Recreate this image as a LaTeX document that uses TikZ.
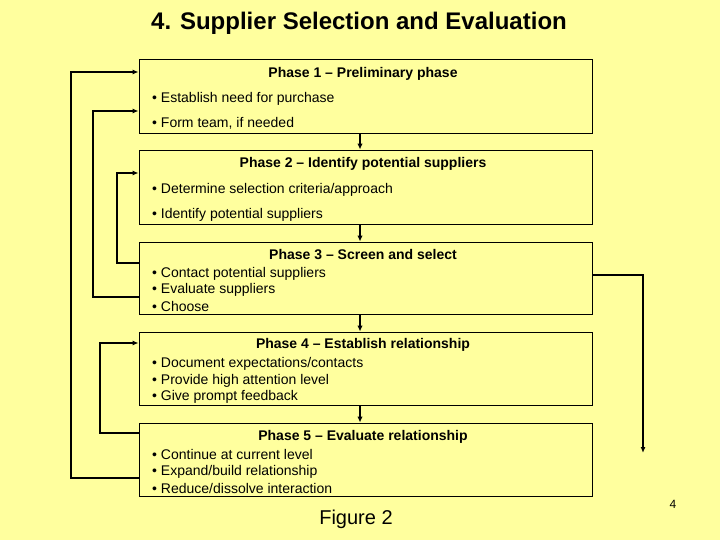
\documentclass[tikz,border=0pt]{standalone}
\usepackage{fontspec}
\setmainfont{Liberation Sans}
\usetikzlibrary{calc,arrows.meta}
\definecolor{slidebg}{RGB}{255,255,158}
\tikzset{
  phasebox/.style={draw,line width=0.9pt,minimum width=453pt,inner sep=0pt},
  phasehead/.style={font=\fontsize{14}{16}\selectfont\bfseries},
  phaseitem/.style={anchor=west,inner sep=0pt,font=\fontsize{14}{16}\selectfont},
  flow/.style={-{Latex[length=6pt,width=5.5pt]},line width=1.4pt},
  loop/.style={-{Latex[length=6pt,width=5pt]},line width=1.2pt}
}
\begin{document}
\begin{tikzpicture}[x=1pt,y=-1pt,>=latex]
  \fill[slidebg] (0,0) rectangle (720,540);
  \useasboundingbox (0,0) rectangle (720,540);
  \node[font=\fontsize{24}{28}\selectfont\bfseries] (title) at (359,23.5) {4. Supplier Selection and Evaluation};
  % the five phases
  \node[phasebox,minimum height=74pt] (p1) at (365.5,96) {};
  \node[phasebox,minimum height=74pt] (p2) at (365.5,187) {};
  \node[phasebox,minimum height=72pt] (p3) at (365.5,278) {};
  \node[phasebox,minimum height=73pt] (p4) at (365.5,368.5) {};
  \node[phasebox,minimum height=73pt] (p5) at (365.5,459.5) {};
  \node[phasehead] (h1) at (363,73.5) {Phase 1 -- Preliminary phase};
  \node[phaseitem] (a1) at (152,98.5) {• Establish need for purchase};
  \node[phaseitem] (a2) at (152,123.5) {• Form team, if needed};
  \node[phasehead] (h2) at (363,163.5) {Phase 2 -- Identify potential suppliers};
  \node[phaseitem] (b1) at (152,189.5) {• Determine selection criteria/approach};
  \node[phaseitem] (b2) at (152,214.5) {• Identify potential suppliers};
  \node[phasehead] (h3) at (363,254.5) {Phase 3 -- Screen and select};
  \node[phaseitem] (c1) at (152,273.5) {• Contact potential suppliers};
  \node[phaseitem] (c2) at (152,290) {• Evaluate suppliers};
  \node[phaseitem] (c3) at (152,306.5) {• Choose};
  \node[phasehead] (h4) at (363,344.5) {Phase 4 -- Establish relationship};
  \node[phaseitem] (d1) at (152,363.5) {• Document expectations/contacts};
  \node[phaseitem] (d2) at (152,380.5) {• Provide high attention level};
  \node[phaseitem] (d3) at (152,397) {• Give prompt feedback};
  \node[phasehead] (h5) at (363,436.5) {Phase 5 -- Evaluate relationship};
  \node[phaseitem] (e1) at (152,454.5) {• Continue at current level};
  \node[phaseitem] (e2) at (152,471.5) {• Expand/build relationship};
  \node[phaseitem] (e3) at (152,488.5) {• Reduce/dissolve interaction};
  % down the chain
  \draw[flow] ([xshift=-5.5pt]p1.south) -- ([xshift=-5.5pt]p2.north);
  \draw[flow] ([xshift=-5.5pt]p2.south) -- ([xshift=-5.5pt]p3.north);
  \draw[flow] ([xshift=-5.5pt]p3.south) -- ([xshift=-5.5pt]p4.north);
  \draw[flow] ([xshift=-5.5pt]p4.south) -- ([xshift=-5.5pt]p5.north);
  % feedback loops
  \draw[loop] (p5.west |- 0,478) -- (71,478) |- (p1.west |- 0,72);
  \draw[loop] (p3.west |- 0,297) -- (93,297) |- (p1.west |- 0,111);
  \draw[loop] (p3.west |- 0,263) -- (117,263) |- (p2.west |- 0,173);
  \draw[loop] (p5.west |- 0,433) -- (100,433) |- (p4.west |- 0,343);
  \coordinate (exit) at (643,453);
  \draw[loop] (p3.east |- 0,275) -| (exit);
  \node[font=\fontsize{20}{24}\selectfont] (fig) at (356,519.5) {Figure 2};
  \node[font=\fontsize{12}{14}\selectfont] (pg) at (673,504) {4};
\end{tikzpicture}
\end{document}
